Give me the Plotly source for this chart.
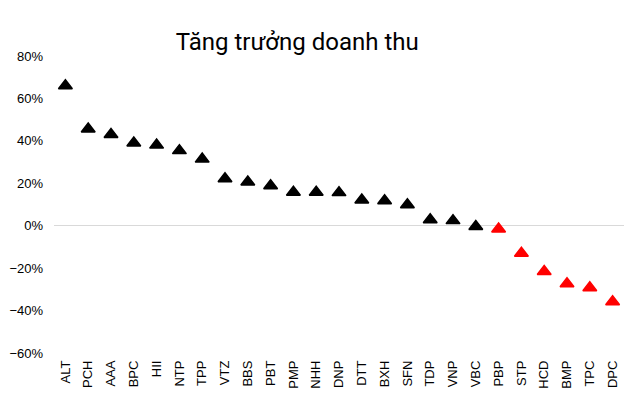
import plotly.graph_objects as go

categories = ["ALT", "PCH", "AAA", "BPC", "HII", "NTP", "TPP", "VTZ", "BBS", "PBT",
              "PMP", "NHH", "DNP", "DTT", "BXH", "SFN", "TDP", "VNP", "VBC", "PBP",
              "STP", "HCD", "BMP", "TPC", "DPC"]
growth = [0.66, 0.456, 0.43, 0.39, 0.38, 0.354, 0.314, 0.221, 0.206, 0.188,
          0.158, 0.158, 0.156, 0.121, 0.118, 0.099, 0.028, 0.024, -0.004, -0.015,
          -0.13, -0.216, -0.273, -0.292, -0.358]
marker_colors = ["#000000"] * 19 + ["#FF0000"] * 6
y_ticks = [-0.6, -0.4, -0.2, 0, 0.2, 0.4, 0.6, 0.8]

fig = go.Figure()
fig.add_trace(go.Scatter(
    x=categories, y=growth, mode="markers",
    marker=dict(symbol="triangle-up", size=12, color=marker_colors,
                line=dict(color=marker_colors, width=1.5)),
    showlegend=False,
))

fig.update_layout(
    width=640, height=403,
    margin=dict(l=46, r=24, t=48, b=58, autoexpand=False),
    paper_bgcolor="white", plot_bgcolor="white",
    font=dict(family="Liberation Sans, Arial, sans-serif", size=13, color="#000000"),
    title=dict(text="Tăng trưởng doanh thu", x=0.452, xref="container", xanchor="center",
               y=1 - 34 / 403, yref="container", yanchor="middle",
               font=dict(family="Roboto, sans-serif", size=24, color="#000000")),
)
fig.update_xaxes(
    type="category", range=[-0.5, len(categories) - 0.5], autorange=False,
    tickangle=-90, showgrid=False, zeroline=False, showline=False, automargin=False,
    ticks="", ticklabelstandoff=4, tickfont=dict(size=13, color="#000000"),
)
fig.update_yaxes(
    range=[-0.6, 0.8], autorange=False, tickvals=y_ticks, tickformat=".0%", showgrid=False,
    zeroline=True, zerolinecolor="#D9D9D9", zerolinewidth=1, showline=False, automargin=False,
    ticks="", ticklabelstandoff=10, tickfont=dict(size=13, color="#000000"),
)

fig.write_html("out.html")
